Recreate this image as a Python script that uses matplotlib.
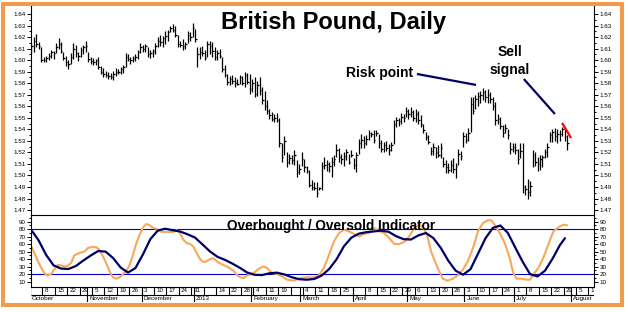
import matplotlib.pyplot as plt
from matplotlib.patches import Rectangle

# one slot per weekday, slot 0 = Mon 1 Oct 2012
highs = [
    1.615, 1.620, 1.623, 1.616, 1.611, 1.603, 1.604, 1.606, 1.609, 1.608,
    1.615, 1.619, 1.616, 1.607, 1.604, 1.600, 1.606, 1.615, 1.613, 1.607,
    1.611, 1.613, 1.617, 1.607, 1.603, 1.602, 1.601, 1.603, 1.595, 1.593,
    1.591, 1.590, 1.589, 1.591, 1.593, 1.592, 1.594, 1.596, 1.606, 1.605,
    1.603, 1.604, 1.605, 1.609, 1.615, 1.613, 1.614, 1.611, 1.609, 1.610,
    1.615, 1.620, 1.622, 1.621, 1.625, 1.626, 1.630, 1.631, 1.630, 1.622,
    1.617, 1.618, 1.616, 1.625, 1.624, 1.632, 1.627, 1.611, 1.611, 1.612,
    1.609, 1.617, 1.617, 1.616, 1.611, 1.609, 1.610, 1.603, 1.596, 1.588,
    1.586, 1.587, 1.585, 1.584, 1.587, 1.586, 1.590, 1.589, 1.588, 1.584,
    1.585, 1.582, 1.585, 1.577, 1.573, 1.565, 1.558, 1.555, 1.553, 1.554,
    1.550, 1.528, 1.534, 1.520, 1.519, 1.518, 1.522, 1.513, 1.510, 1.520,
    1.514, 1.508, 1.505, 1.496, 1.494, 1.494, 1.490, 1.512, 1.516, 1.513,
    1.512, 1.516, 1.518, 1.527, 1.524, 1.519, 1.520, 1.523, 1.519, 1.522,
    1.515, 1.520, 1.532, 1.536, 1.534, 1.535, 1.539, 1.538, 1.539, 1.539,
    1.536, 1.531, 1.529, 1.530, 1.527, 1.529, 1.548, 1.551, 1.550, 1.554,
    1.553, 1.559, 1.558, 1.559, 1.557, 1.558, 1.556, 1.552, 1.545, 1.538,
    1.535, 1.525, 1.528, 1.525, 1.526, 1.528, 1.516, 1.513, 1.511, 1.513,
    1.515, 1.511, 1.523, 1.521, 1.538, 1.537, 1.541, 1.568, 1.568, 1.570,
    1.572, 1.573, 1.576, 1.574, 1.575, 1.572, 1.568, 1.564, 1.553, 1.551,
    1.544, 1.545, 1.540, 1.529, 1.528, 1.528, 1.523, 1.528, 1.528, 1.492,
    1.497, 1.495, 1.522, 1.520, 1.516, 1.518, 1.518, 1.523, 1.528, 1.538,
    1.540, 1.541, 1.540, 1.539, 1.542, 1.540, 1.535,
]
lows = [
    1.606, 1.607, 1.611, 1.610, 1.598, 1.598, 1.598, 1.600, 1.602, 1.601,
    1.606, 1.610, 1.606, 1.600, 1.595, 1.592, 1.597, 1.601, 1.603, 1.599,
    1.603, 1.605, 1.607, 1.598, 1.597, 1.596, 1.596, 1.592, 1.588, 1.585,
    1.585, 1.584, 1.584, 1.583, 1.586, 1.588, 1.588, 1.589, 1.594, 1.599,
    1.597, 1.598, 1.599, 1.601, 1.606, 1.607, 1.607, 1.603, 1.602, 1.603,
    1.605, 1.611, 1.612, 1.611, 1.614, 1.617, 1.624, 1.624, 1.620, 1.611,
    1.611, 1.609, 1.610, 1.615, 1.617, 1.620, 1.616, 1.594, 1.601, 1.604,
    1.600, 1.603, 1.605, 1.603, 1.600, 1.600, 1.602, 1.590, 1.585, 1.578,
    1.578, 1.579, 1.577, 1.578, 1.579, 1.578, 1.577, 1.579, 1.571, 1.572,
    1.568, 1.569, 1.570, 1.562, 1.557, 1.553, 1.549, 1.547, 1.546, 1.546,
    1.525, 1.512, 1.518, 1.507, 1.510, 1.510, 1.509, 1.499, 1.501, 1.508,
    1.503, 1.502, 1.490, 1.487, 1.487, 1.481, 1.487, 1.487, 1.506, 1.504,
    1.503, 1.499, 1.508, 1.516, 1.512, 1.510, 1.508, 1.513, 1.510, 1.516,
    1.506, 1.503, 1.519, 1.524, 1.524, 1.526, 1.531, 1.533, 1.528, 1.534,
    1.524, 1.520, 1.520, 1.521, 1.518, 1.521, 1.527, 1.542, 1.543, 1.545,
    1.546, 1.551, 1.549, 1.551, 1.547, 1.546, 1.545, 1.542, 1.537, 1.531,
    1.527, 1.518, 1.518, 1.515, 1.516, 1.515, 1.507, 1.502, 1.502, 1.503,
    1.502, 1.498, 1.509, 1.513, 1.525, 1.528, 1.530, 1.538, 1.553, 1.558,
    1.560, 1.563, 1.565, 1.564, 1.563, 1.563, 1.557, 1.544, 1.545, 1.540,
    1.533, 1.537, 1.532, 1.519, 1.520, 1.519, 1.510, 1.515, 1.485, 1.483,
    1.480, 1.482, 1.507, 1.508, 1.504, 1.505, 1.507, 1.515, 1.516, 1.529,
    1.529, 1.530, 1.528, 1.530, 1.534, 1.530, 1.522,
]
closes = [
    1.612, 1.617, 1.614, 1.612, 1.600, 1.600, 1.602, 1.604, 1.607, 1.606,
    1.611, 1.614, 1.608, 1.602, 1.598, 1.597, 1.603, 1.610, 1.606, 1.604,
    1.609, 1.611, 1.612, 1.601, 1.599, 1.598, 1.600, 1.594, 1.590, 1.588,
    1.587, 1.586, 1.585, 1.588, 1.590, 1.590, 1.592, 1.594, 1.603, 1.601,
    1.600, 1.602, 1.603, 1.607, 1.611, 1.610, 1.612, 1.605, 1.606, 1.608,
    1.612, 1.617, 1.616, 1.619, 1.621, 1.624, 1.628, 1.626, 1.622, 1.614,
    1.613, 1.612, 1.614, 1.622, 1.620, 1.628, 1.618, 1.605, 1.607, 1.606,
    1.602, 1.614, 1.612, 1.608, 1.603, 1.606, 1.604, 1.592, 1.587, 1.581,
    1.584, 1.582, 1.580, 1.579, 1.585, 1.580, 1.587, 1.581, 1.575, 1.580,
    1.571, 1.578, 1.574, 1.565, 1.560, 1.556, 1.552, 1.549, 1.550, 1.548,
    1.528, 1.516, 1.530, 1.512, 1.515, 1.513, 1.518, 1.503, 1.506, 1.514,
    1.507, 1.504, 1.492, 1.490, 1.489, 1.485, 1.489, 1.508, 1.509, 1.510,
    1.508, 1.512, 1.514, 1.522, 1.516, 1.514, 1.517, 1.520, 1.512, 1.518,
    1.509, 1.518, 1.528, 1.531, 1.528, 1.532, 1.537, 1.536, 1.531, 1.537,
    1.528, 1.523, 1.526, 1.524, 1.522, 1.526, 1.545, 1.548, 1.547, 1.551,
    1.550, 1.556, 1.553, 1.555, 1.550, 1.553, 1.548, 1.545, 1.539, 1.533,
    1.529, 1.521, 1.525, 1.520, 1.518, 1.524, 1.510, 1.507, 1.505, 1.509,
    1.506, 1.508, 1.519, 1.517, 1.534, 1.531, 1.537, 1.562, 1.556, 1.566,
    1.569, 1.570, 1.572, 1.568, 1.570, 1.566, 1.560, 1.548, 1.549, 1.543,
    1.537, 1.541, 1.535, 1.523, 1.525, 1.522, 1.514, 1.521, 1.490, 1.488,
    1.486, 1.491, 1.518, 1.512, 1.510, 1.514, 1.516, 1.520, 1.525, 1.535,
    1.538, 1.534, 1.536, 1.536, 1.540, 1.534, 1.528,
]

# overbought / oversold indicator
slow_days = list(range(0, 214, 3)) + [215]
slow_vals = [
    79, 64.8, 45.6, 31.6, 27.3, 26.7, 30.7, 38, 44.7, 50.7,
    49.8, 41.3, 28.8, 21.9, 28, 46, 66.5, 78, 80.4, 78.4,
    76.7, 73, 68.6, 59.5, 50.2, 43, 39, 34, 28.4, 22,
    19, 18.6, 21, 21.8, 19.5, 15.7, 13.1, 12.4, 13.4, 17.9,
    26.5, 39.5, 57, 68.5, 73.8, 75.8, 76.8, 77.8, 76.3, 70.5,
    66.5, 66, 71.5, 74.7, 68, 55, 38, 24.5, 19.1, 26.5,
    47, 67.5, 81.5, 84.7, 75, 55.5, 36.4, 19.8, 16.8, 24.4,
    40.2, 58.5, 67.5,
]
fast_days = [
    0, 1.3, 2.7, 4.1, 5.3, 6.6, 8, 9.3, 10.7, 12, 13.4, 14.7, 16.1, 17.4,
    19.4, 21.5, 22.8, 24.8, 26.2, 27.5, 28.9, 30.2, 31.6, 32.9, 34.3, 35.6,
    37, 38.3, 39.7, 41, 42.4, 43.7, 45.1, 46.4, 47.8, 49.1, 50.5, 51.8, 53.2,
    55, 57.2, 58.6, 59.9, 61.3, 62.6, 64, 65.3, 66.7, 68, 69.4, 70.7, 72,
    73.4, 74.8, 76.1, 78.8, 81.5, 82.8, 84.2, 85.5, 87.6, 89.6, 91.6, 93.6,
    95, 97, 99, 101.1, 103.1, 105.8, 108.5, 111.2, 113.9, 115.9, 117.9, 120,
    122, 124, 126, 128, 130.1, 132.1, 134.1, 136.2, 138.2, 140.2, 142.2,
    144.2, 146.3, 148.3, 150.3, 152.3, 154.4, 156.4, 158, 159.5, 161.1,
    162.4, 163.8, 165.8, 167.8, 169.9, 171.9, 173.9, 175.9, 178, 180, 182,
    184, 185.4, 186.7, 188.8, 190.8, 192.8, 194.2, 195.5, 197.5, 199.6,
    200.9, 202.3, 204.3, 206.3, 208.3, 210.4, 212.4, 214.4, 215.8,
]
fast_vals = [
    57, 48, 37, 28, 21, 18, 20, 26, 32, 31.6, 30, 31, 35, 45,
    48, 50, 54.7, 56.4, 55.6, 52.4, 43.6, 34.7, 23.6, 15.6, 13.8, 15.6,
    20, 23.6, 32.4, 45.8, 61.3, 72.4, 82.2, 86.7, 84.9, 81.3, 80.4, 76.9, 76,
    76, 76, 79, 74.7, 65.8, 61.3, 60, 56.9, 48, 40, 36, 37, 40,
    41, 37, 34, 30.2, 24.4, 19.1, 15.6, 14.7, 19.1, 21.3, 26.7, 30.2,
    28, 21.3, 20, 16.9, 12.4, 11.1, 14.7, 15.6, 15.6, 18.2, 28, 45.8,
    63.6, 74.7, 79.1, 76.9, 73.3, 70.2, 73.3, 74.7, 81.3, 76.9, 74.7,
    68, 60, 60, 62.7, 70.2, 81.3, 85.8, 82, 72, 50.2,
    39, 28, 13.8, 11.1, 13.8, 18.2, 25.8, 36.9, 54.7, 76.9, 88,
    91.6, 91.6, 85.8, 74.7, 61.3, 41.3, 21.3, 13.8, 13.8, 12.4,
    12.4, 19.1, 28, 41.3, 59.1, 76.9, 82.2, 85.8, 84.9,
]

week_days = list(range(0, 226, 5))
week_labels = ['', '8', '15', '22', '29', '5', '12', '19', '26',
               '3', '10', '17', '24', '31', '', '14', '22', '28',
               '4', '11', '19', '', '4', '11', '18', '25',
               '', '8', '15', '22', '29', '6', '13', '20', '28',
               '3', '10', '17', '24', '1', '8', '15', '22', '29', '5', '12']
month_days = [0, 23, 45, 66, 89, 109, 130, 152, 175, 195, 218]
month_labels = ['October', 'November', 'December', '2013', 'February', 'March',
                'April', 'May', 'June', 'July', 'August']

# annotation lines (slot, price)
risk_line = [(155.4, 1.5880), (179.2, 1.5785)]
sell_line = [(198.5, 1.5836), (211.0, 1.5533)]
red_line = [(213.9, 1.5455), (217.5, 1.5325)]

W, H = 628, 312
plt.rcParams['font.family'] = ['Liberation Sans', 'DejaVu Sans']
fig = plt.figure(figsize=(W / 100, H / 100), dpi=100)


def box(l, t, r, b):
    return [l / W, 1 - b / H, (r - l) / W, (b - t) / H]


XL = (-0.08, 226.75)
ax = fig.add_axes(box(31, 5, 594, 215))
osc = fig.add_axes(box(31, 215, 594, 287))
dts = fig.add_axes(box(31, 287, 594, 302))

# price bars
days = list(range(len(highs)))
ax.vlines(days, lows, highs, color='black', lw=0.9)
ax.hlines(closes, days, [d + 0.6 for d in days], color='black', lw=0.9)
ax.set_xlim(XL)
ax.set_ylim(1.4657, 1.6478)
ticks = [round(1.47 + 0.01 * i, 2) for i in range(18)]
ax.set_yticks(ticks, [f'{t:.2f}' for t in ticks])
ax.set_yticks([t + 0.005 for t in ticks[:-1]], minor=True)
ax.set_xticks([])
ax.tick_params(axis='y', which='both', left=True, right=True, labelleft=True,
               labelright=True, direction='out', width=0.7, labelsize=4.5, pad=1)
ax.tick_params(axis='y', which='major', length=3)
ax.tick_params(axis='y', which='minor', length=1.5)
ax.spines['top'].set_visible(False)
ax.spines['bottom'].set_visible(False)
for s in ('left', 'right'):
    ax.spines[s].set_linewidth(0.8)

for seg, col in ((risk_line, '#000066'), (sell_line, '#000066'), (red_line, '#ff0000')):
    ax.plot([p[0] for p in seg], [p[1] for p in seg], color=col, lw=1.6,
            solid_capstyle='butt', clip_on=False)
ax.text(153.8, 1.5888, 'Risk point', ha='right', va='center', fontsize=10,
        fontweight='bold')
ax.text(192.9, 1.5993, 'Sell\nsignal', ha='center', va='center', fontsize=10,
        fontweight='bold', linespacing=1.35)

# indicator
osc.axhline(80, color='#0000cc', lw=0.8, zorder=1)
osc.axhline(20, color='#0000cc', lw=0.8, zorder=1)
osc.plot(fast_days, fast_vals, color='#f9a857', lw=1.5, zorder=2)
osc.plot(slow_days, slow_vals, color='#000066', lw=1.6, zorder=3)
osc.set_xlim(XL)
osc.set_ylim(2.7, 98.7)
osc.set_yticks(range(10, 91, 10))
osc.set_yticks(range(15, 96, 10), minor=True)
osc.set_xticks([])
osc.tick_params(axis='y', which='both', left=True, right=True, labelleft=True,
                labelright=True, direction='out', width=0.7, labelsize=4.5, pad=1)
osc.tick_params(axis='y', which='major', length=3)
osc.tick_params(axis='y', which='minor', length=1.5)
for s in osc.spines.values():
    s.set_linewidth(0.8)
osc.text(120.8, 84, 'Overbought / Oversold Indicator', ha='center', va='center',
         fontsize=9.8, fontweight='bold', zorder=5)

# date rows
dts.set_xlim(XL)
dts.set_ylim(0, 2)
dts.axis('off')
dts.hlines(1, XL[0], XL[1], color='black', lw=0.8)
for d, lab in zip(week_days, week_labels):
    dts.vlines(d - 0.5, 1, 2, color='black', lw=0.8)
    dts.text(d + 0.4, 1.5, lab, ha='left', va='center', fontsize=4.5, clip_on=True)
for d, lab in zip(month_days, month_labels):
    dts.vlines(d - 0.5, 0, 2, color='black', lw=0.8)
    dts.text(max(d + 0.4, 0.4), 0.5, lab, ha='left', va='center', fontsize=4.5,
             clip_on=True)

fig.text(333 / W, 1 - 23 / H, 'British Pound, Daily', ha='center', va='center',
         fontsize=17, fontweight='bold')

fig.patches.append(Rectangle((3.5 / W, 1 - 304.5 / H), 618 / W, 301 / H,
                             transform=fig.transFigure, fill=False,
                             edgecolor='#f39a4c', lw=2.9))

fig.savefig('out.png', dpi=100)
